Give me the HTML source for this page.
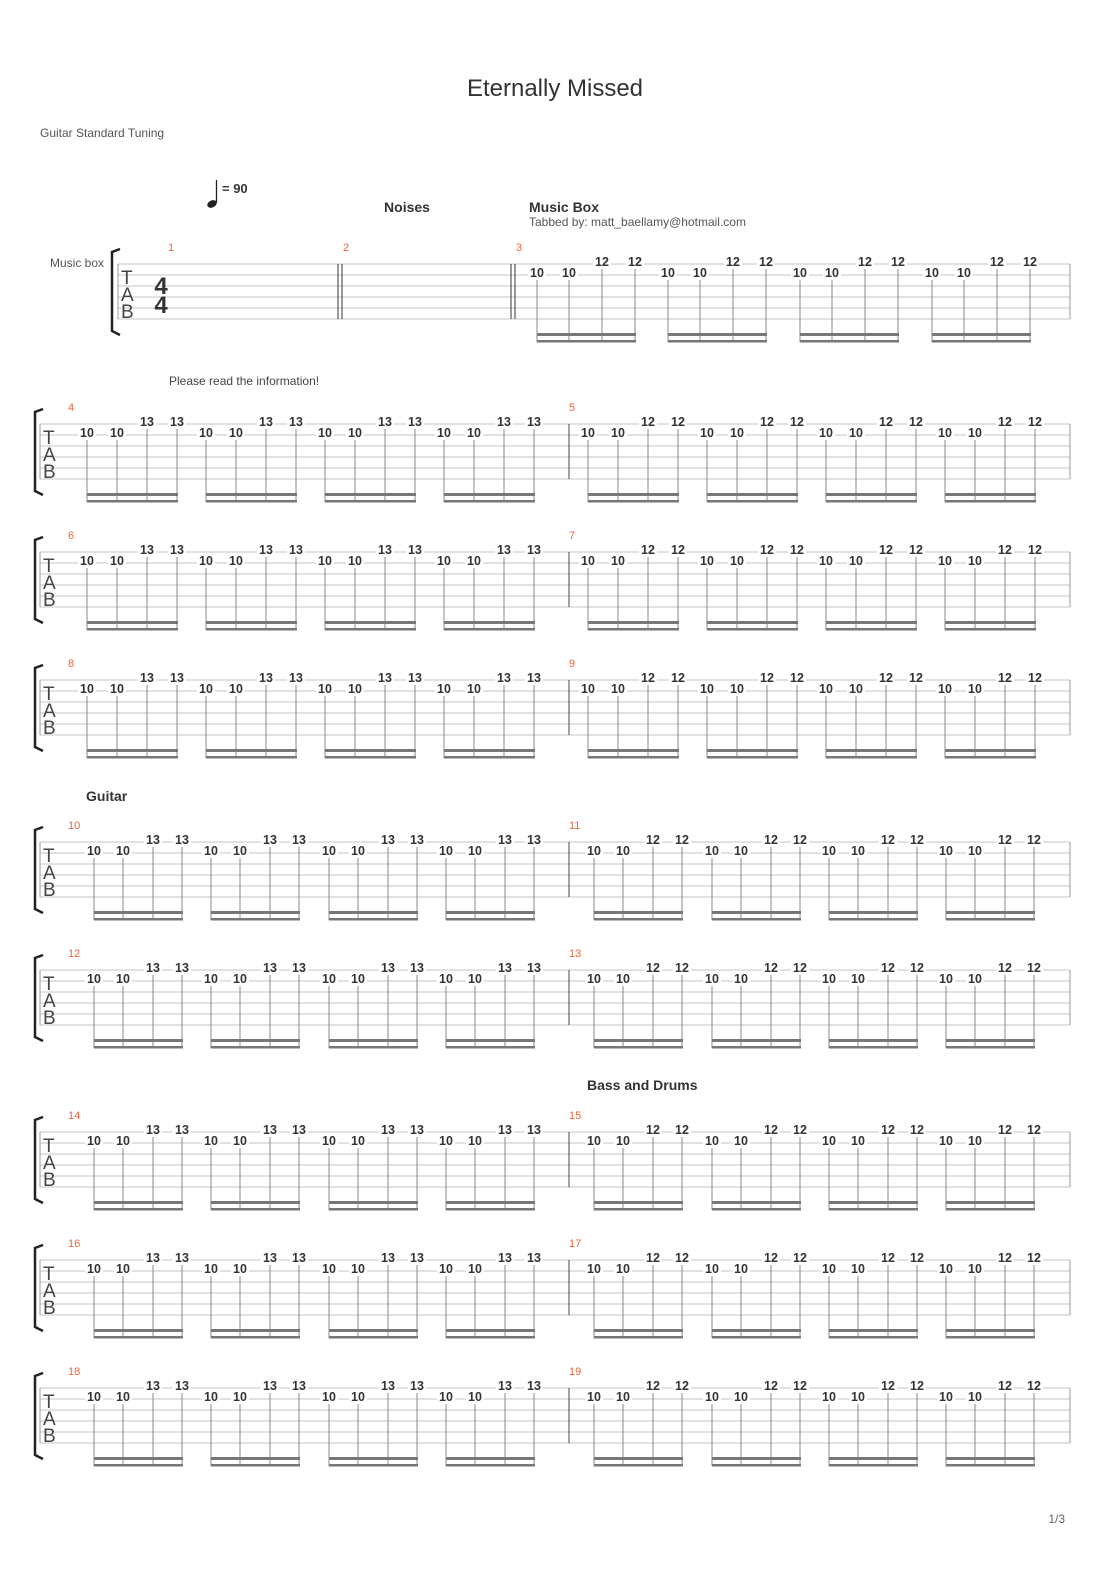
<!DOCTYPE html>
<html><head><meta charset="utf-8"><style>
body{margin:0;background:#fff}
svg{display:block}
text{font-family:"Liberation Sans","DejaVu Sans",sans-serif}
</style></head><body>
<svg id="s" width="1110" height="1570" xmlns="http://www.w3.org/2000/svg">
<text x="555" y="96" font-size="24" text-anchor="middle" fill="#333">Eternally Missed</text>
<text x="40" y="137" font-size="12" fill="#555">Guitar Standard Tuning</text>
<ellipse cx="212" cy="204" rx="5" ry="3.5" fill="#222" transform="rotate(-25 212 204)"/>
<line x1="216.5" y1="180" x2="216.5" y2="203" stroke="#222" stroke-width="1.3"/>
<text x="222" y="193" font-size="13" font-weight="bold" fill="#333">= 90</text>
<text x="407" y="212" font-size="14" font-weight="bold" fill="#333" text-anchor="middle">Noises</text>
<text x="529" y="212" font-size="14" font-weight="bold" fill="#333">Music Box</text>
<text x="529" y="226" font-size="12" fill="#555">Tabbed by: matt_baellamy@hotmail.com</text>
<text x="50" y="267" font-size="12" fill="#555">Music box</text>
<text x="169" y="385" font-size="12" fill="#444">Please read the information!</text>
<text x="86" y="801" font-size="14" font-weight="bold" fill="#333">Guitar</text>
<text x="587" y="1090" font-size="14" font-weight="bold" fill="#333">Bass and Drums</text>
<text x="1065" y="1523" font-size="12" fill="#666" text-anchor="end">1/3</text>
<g id="g"></g>
</svg>
<script>
var g=document.getElementById('g'),h='';
function L(x1,y1,x2,y2,c,w){h+='<line x1="'+x1+'" y1="'+y1+'" x2="'+x2+'" y2="'+y2+'" stroke="'+c+'" stroke-width="'+w+'"/>';}
function T(x,y,t,sz,c,extra){h+='<text x="'+x+'" y="'+y+'" font-size="'+sz+'" fill="'+c+'" '+(extra||'')+'>'+t+'</text>';}
function staff(top,x0,bx){
 for(var i=0;i<6;i++)L(x0,top+i*11,1070,top+i*11,'#c4c4c4',1);
 L(x0,top,x0,top+55,'#999',1);L(1070,top,1070,top+55,'#999',1);
 h+='<path d="M'+(bx+8)+' '+(top-15)+' L'+bx+' '+(top-12)+' L'+bx+' '+(top+67)+' L'+(bx+8)+' '+(top+71)+'" stroke="#222" stroke-width="2.5" fill="none"/>';
 T(x0+3,top+20,'T',19,'#444');
 T(x0+3,top+37,'A',19,'#444');T(x0+3,top+54,'B',19,'#444');
}
function group(top,x,offs,hi){
 var xs=offs.map(function(o){return x+o;});
 var fr=['10','10',hi,hi],st=[1,1,0,0];
 for(var i=0;i<4;i++){
  var y=top+st[i]*11;
  h+='<rect x="'+(xs[i]-9)+'" y="'+(y-8)+'" width="18" height="12" fill="#fff"/>';
  T(xs[i],y+2,fr[i],12.5,'#333','font-weight="bold" text-anchor="middle"');
  L(xs[i],y+5,xs[i],top+78,'#888',1);
 }
 h+='<rect x="'+xs[0]+'" y="'+(top+69)+'" width="'+(xs[3]-xs[0]+1)+'" height="3" fill="#777"/>';
 h+='<rect x="'+xs[0]+'" y="'+(top+76)+'" width="'+(xs[3]-xs[0]+1)+'" height="2.5" fill="#777"/>';
}
var t=264;staff(t,118,112);
h+='<text x="161" y="294" font-size="24" font-weight="bold" fill="#333" text-anchor="middle" font-family="Liberation Serif">4</text>';
h+='<text x="161" y="313" font-size="24" font-weight="bold" fill="#333" text-anchor="middle" font-family="Liberation Serif">4</text>';
L(338,t,338,t+55,'#333',1);L(342,t,342,t+55,'#333',1);L(511,t,511,t+55,'#333',1);L(515,t,515,t+55,'#333',1);
T(171,t-13,'1',11,'#f0643c','text-anchor="middle"');T(346,t-13,'2',11,'#f0643c','text-anchor="middle"');T(519,t-13,'3',11,'#f0643c','text-anchor="middle"');
[537,668,800,932].forEach(function(x){group(t,x,[0,32,65,98],'12');});
var tops=[424,552,680,842,970,1132,1260,1388];
tops.forEach(function(top,k){
 staff(top,40,35);
 var m=4+2*k, gui=k>=3;
 L(569,top,569,top+55,'#444',1);
 T(68,top-13,m,11,'#f0643c');T(569,top-13,m+1,11,'#f0643c');
 var a=gui?[94,211,329,446]:[87,206,325,444];
 var b=gui?[594,712,829,946]:[588,707,826,945];
 var o=gui?[0,29,59,88]:[0,30,60,90];
 a.forEach(function(x){group(top,x,o,'13');});
 b.forEach(function(x){group(top,x,o,'12');});
});
g.innerHTML=h;
</script>
</body></html>
